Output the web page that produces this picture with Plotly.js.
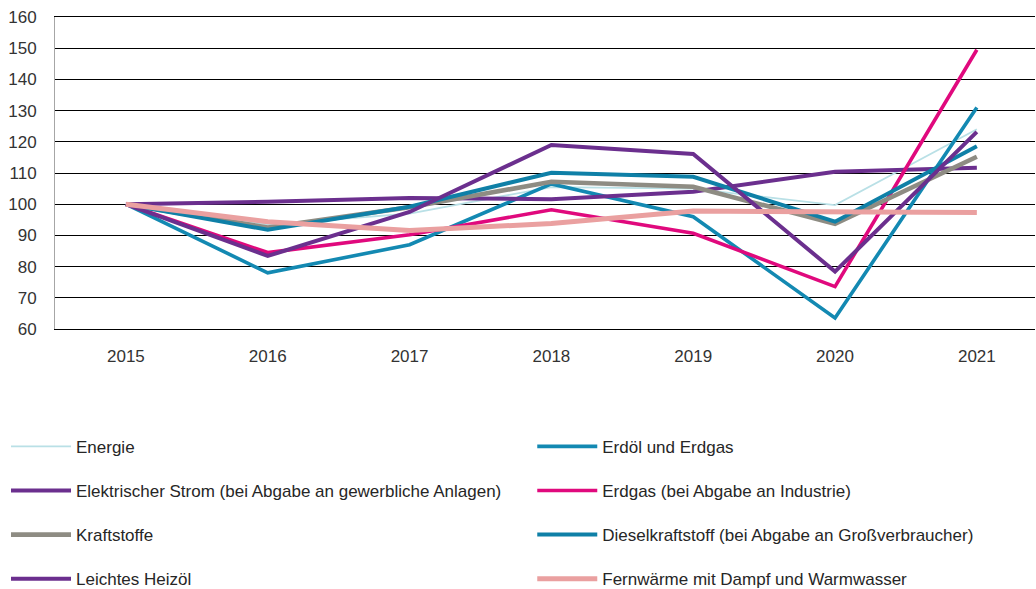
<!DOCTYPE html>
<html>
<head>
<meta charset="utf-8">
<script src="https://cdn.plot.ly/plotly-3.0.1.min.js"></script>
<style>
html,body{margin:0;padding:0;background:#fff;}
#chart{width:1036px;height:589px;}
</style>
</head>
<body>
<div id="chart"></div>
<script>
// Data (index, 2015 = 100)
var years = ["2015", "2016", "2017", "2018", "2019", "2020", "2021"];

var energie        = [100, 93.5, 97, 105.5, 105, 99.7, 124];
var erdoelErdgas   = [100, 78, 87, 106.5, 96, 63.5, 131];
var strom          = [100, 100.8, 102, 101.6, 104, 110.4, 111.7];
var erdgasInd      = [100, 84.5, 90.2, 98.2, 90.7, 73.6, 149.5];
var kraftstoffe    = [100, 92.5, 99, 107.2, 105.6, 93.7, 115.2];
var diesel         = [100, 91.8, 99.2, 110.1, 108.8, 94.4, 118.6];
var heizoel        = [100, 83.4, 97.5, 119, 116.1, 78.4, 123.2];
var fernwaerme     = [100, 94.4, 91.6, 93.8, 97.8, 97.6, 97.3];

var seriesNames = [
  "Energie",
  "Erdöl und Erdgas",
  "Elektrischer Strom (bei Abgabe an gewerbliche Anlagen)",
  "Erdgas (bei Abgabe an Industrie)",
  "Kraftstoffe",
  "Dieselkraftstoff (bei Abgabe an Großverbraucher)",
  "Leichtes Heizöl",
  "Fernwärme mit Dampf und Warmwasser"
];
var seriesValues = [energie, erdoelErdgas, strom, erdgasInd, kraftstoffe, diesel, heizoel, fernwaerme];
var seriesColors = ["#b9e0e6", "#1389b2", "#6b2f8e", "#e0097d", "#8e8c83", "#0f80a7", "#6b2f8e", "#eaa0a0"];
var seriesWidths = [1.8, 3.6, 4, 3.6, 4.6, 4, 4, 5];

var traces = seriesNames.map(function (name, i) {
  return {
    type: "scatter",
    mode: "lines",
    x: years,
    y: seriesValues[i],
    name: name,
    line: {color: seriesColors[i], width: seriesWidths[i]},
    legend: (i % 2 === 0) ? "legend" : "legend2",
    legendgroup: "g" + i,
    hoverinfo: "x+y+name"
  };
});

var legendCommon = {
  orientation: "v",
  xanchor: "left",
  yanchor: "top",
  bgcolor: "rgba(0,0,0,0)",
  borderwidth: 0,
  font: {family: "Liberation Sans, Arial, sans-serif", size: 17, color: "#262626"},
  tracegroupgap: 19,
  itemwidth: 60,
  traceorder: "grouped"
};

var layout = {
  width: 1036,
  height: 589,
  margin: {l: 55, r: 1, t: 17, b: 260, autoexpand: false},
  paper_bgcolor: "#ffffff",
  plot_bgcolor: "#ffffff",
  font: {family: "Liberation Sans, Arial, sans-serif", size: 17, color: "#333333"},
  showlegend: true,
  xaxis: {
    type: "category",
    range: [-0.5, 6.41],
    showgrid: false,
    zeroline: false,
    showline: true,
    linecolor: "#000000",
    linewidth: 1.3,
    mirror: true,
    ticks: "",
    ticklabelstandoff: 11,
    tickfont: {family: "Liberation Sans, Arial, sans-serif", size: 17, color: "#333333"},
    fixedrange: true
  },
  yaxis: {
    range: [60, 160],
    dtick: 10,
    tick0: 60,
    showgrid: true,
    gridcolor: "#000000",
    gridwidth: 1.3,
    zeroline: false,
    showline: true,
    linecolor: "#a6a6a6",
    linewidth: 1,
    ticks: "",
    ticklabelstandoff: 14,
    tickfont: {family: "Liberation Sans, Arial, sans-serif", size: 17, color: "#333333"},
    fixedrange: true
  },
  legend: Object.assign({}, legendCommon, {x: -0.05, y: -0.32}),
  legend2: Object.assign({}, legendCommon, {x: 0.487, y: -0.32})
};

Plotly.newPlot("chart", traces, layout, {displayModeBar: false, staticPlot: false});
</script>
</body>
</html>
